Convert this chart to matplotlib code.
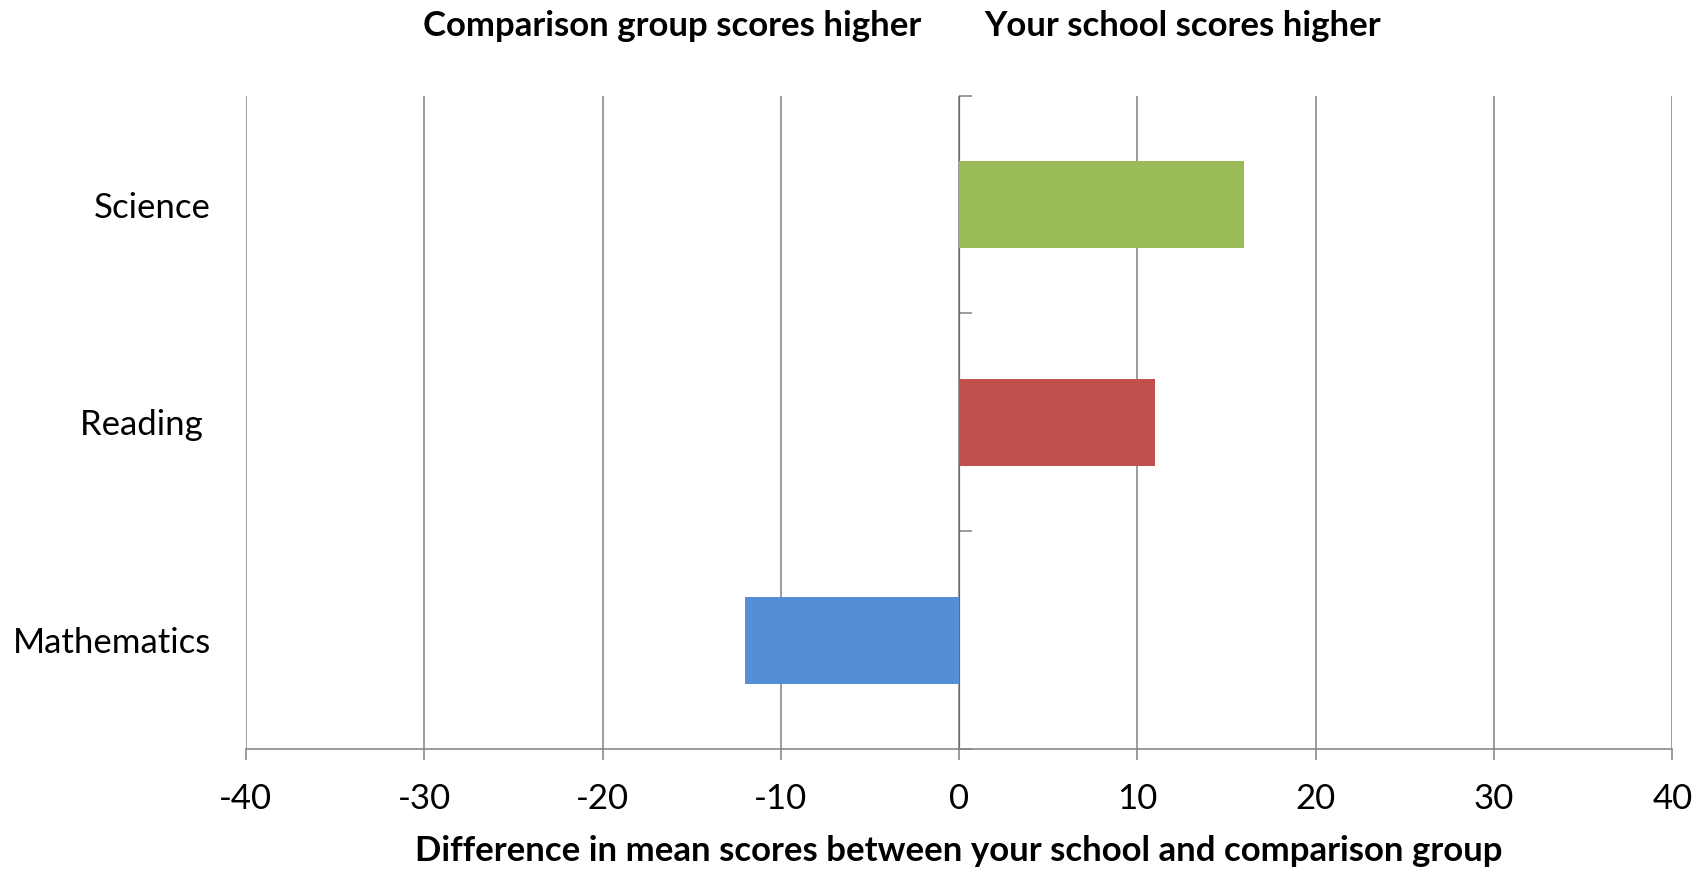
import matplotlib
matplotlib.use("Agg")
import matplotlib.pyplot as plt

# Subjects listed bottom to top, with the score gap (your school minus comparison group)
subjects = ["Mathematics", "Reading ", "Science"]
differences = [-12, 11, 16]
bar_colors = ["#558ED5", "#C0504D", "#9BBB59"]
x_ticks = [-40, -30, -20, -10, 0, 10, 20, 30, 40]
left_heading = "Comparison group scores higher"
right_heading = "Your school scores higher"
x_title = "Difference in mean scores between your school and comparison group"

plt.rcParams["font.family"] = ["Lato", "DejaVu Sans"]
GRID = "#868686"
LW = 1.15

fig = plt.figure(figsize=(17.05, 8.69), dpi=100)
ax = fig.add_axes([0.1442, 0.1381, 0.8367, 0.7518])

positions = list(range(len(subjects)))
ax.barh(positions, differences, height=0.4, color=bar_colors, zorder=3)

ax.set_xlim(x_ticks[0], x_ticks[-1])
ax.set_ylim(-0.5, len(subjects) - 0.5)
ax.set_xticks(x_ticks)
ax.set_xticklabels([str(t) for t in x_ticks])
ax.xaxis.grid(True, color=GRID, linewidth=LW, zorder=0)
ax.set_axisbelow(True)

for side in ("top", "right", "left"):
    ax.spines[side].set_visible(False)
ax.spines["bottom"].set_color(GRID)
ax.spines["bottom"].set_linewidth(LW)
ax.tick_params(axis="x", direction="out", length=8, width=LW, color=GRID,
               labelsize=25, pad=16.5, labelcolor="black")

# Category labels at the far left of the plot area
ax.set_yticks(positions)
ax.set_yticklabels(subjects)
ax.tick_params(axis="y", length=0, labelsize=25, pad=25, labelcolor="black")

# Vertical category axis crossing at zero, with ticks between categories
zero_frac = (0 - x_ticks[0]) / (x_ticks[-1] - x_ticks[0])
cat_axis = ax.secondary_yaxis(zero_frac)
cat_axis.set_yticks([p - 0.5 for p in positions] + [positions[-1] + 0.5])
cat_axis.set_yticklabels([])
cat_axis.spines["left"].set_color(GRID)
cat_axis.spines["left"].set_linewidth(LW)
cat_axis.tick_params(axis="y", direction="out", length=9, width=LW, color=GRID)

fig.text(921 / 1705, 1 - 26 / 869, left_heading, ha="right", va="center",
         fontsize=25, fontweight="bold")
fig.text(984 / 1705, 1 - 26 / 869, right_heading, ha="left", va="center",
         fontsize=25, fontweight="bold")
fig.text(959 / 1705, 1 - 851 / 869, x_title, ha="center", va="center",
         fontsize=25, fontweight="bold")

fig.savefig("out.png", dpi=100, facecolor="white")
